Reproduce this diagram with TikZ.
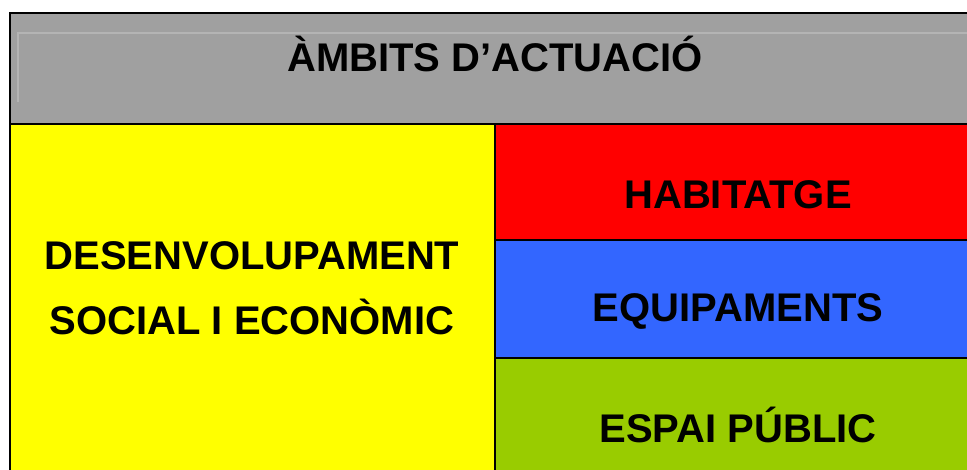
\documentclass[tikz,border=0pt]{standalone}
\usepackage{fontspec}
\setmainfont{Liberation Sans}
\usepackage{xcolor}
\definecolor{capgray}{HTML}{A0A0A0}
\definecolor{capline}{HTML}{B4B4B4}
\definecolor{socyellow}{HTML}{FFFF00}
\definecolor{habred}{HTML}{FF0000}
\definecolor{equipblue}{HTML}{3366FF}
\definecolor{espaigreen}{HTML}{99CC00}

\begin{document}
\begin{tikzpicture}[x=0.75pt,y=-0.75pt]
			\useasboundingbox (0,0) rectangle (967,470);
			\clip (0,0) rectangle (967,470);
			\tikzset{cell/.style={draw=black,line width=2.2pt}}
			\filldraw[cell,fill=capgray] (10,13) rectangle (982,124);
			\draw[capline,line width=1pt] (18,102) -- (18,33) -- (982,33);
			\filldraw[cell,fill=socyellow] (10,124) rectangle (495,496);
			\filldraw[cell,fill=habred] (495,124) rectangle (982,240);
			\filldraw[cell,fill=equipblue] (495,240) rectangle (982,358);
			\filldraw[cell,fill=espaigreen] (495,358) rectangle (982,496);
			\tikzstyle{every node}=[font=\fontsize{30}{49}\selectfont\bfseries,align=center,inner sep=0pt]
			\node (ambits) at (495,54) {ÀMBITS D’ACTUACIÓ};
			\node (social) at (252,288) {DESENVOLUPAMENT\\SOCIAL I ECONÒMIC};
			\node (habitatge) at (738,195) {HABITATGE};
			\node (equip) at (738,311) {EQUIPAMENTS};
			\node (espai) at (738,425) {ESPAI PÚBLIC};
		\end{tikzpicture}
\end{document}
